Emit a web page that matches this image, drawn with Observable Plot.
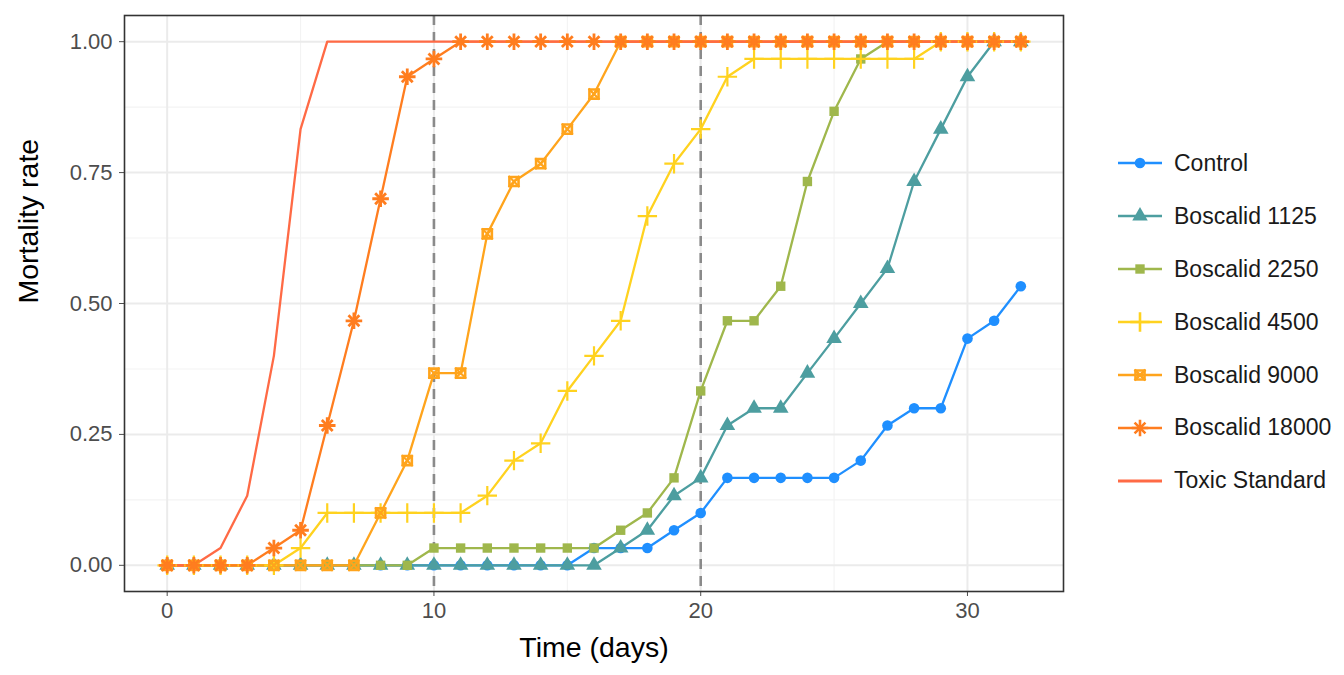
<!DOCTYPE html>
<html>
<head>
<meta charset="utf-8">
<script src="https://cdn.jsdelivr.net/npm/d3@7"></script>
<script src="https://cdn.jsdelivr.net/npm/@observablehq/plot@0.6"></script>
<style>
  html, body { margin: 0; padding: 0; background: #fff; }
  #wrap { position: relative; width: 1344px; height: 675px; font-family: "Liberation Sans", Arial, sans-serif; }
  #legend { position: absolute; left: 1116px; top: 137px; }
  .item { display: flex; align-items: center; height: 52.9px; font-size: 23px; color: #1a1a1a; }
  .item svg { margin-right: 10px; }
</style>
</head>
<body>
<div id="wrap"><div id="chart"></div><div id="legend"></div></div>
<script>
// ---- data ----
const days = d3.range(0, 33);
const seriesNames = ["Control", "Boscalid 1125", "Boscalid 2250", "Boscalid 4500", "Boscalid 9000", "Boscalid 18000", "Toxic Standard"];
const seriesColors = ["#1f8fff", "#4d9ea0", "#9fb74c", "#ffd21f", "#ffa41c", "#ff7d1f", "#ff6a45"];

const control  = [0,0,0,0,0,0,0,0,0,0,0,0,0,0,0,0, 0.033,0.033,0.033,0.067,0.1,0.167,0.167,0.167,0.167,0.167,0.2,0.267,0.3,0.3,0.433,0.467,0.533];
const b1125    = [0,0,0,0,0,0,0,0,0,0,0,0,0,0,0,0,0, 0.033,0.067,0.133,0.167,0.267,0.3,0.3,0.367,0.433,0.5,0.567,0.733,0.833,0.933,1,1];
const b2250    = [0,0,0,0,0,0,0,0,0,0, 0.033,0.033,0.033,0.033,0.033,0.033,0.033, 0.067,0.1,0.167,0.333,0.467,0.467,0.533,0.733,0.867,0.967, 1,1,1,1,1,1];
const b4500    = [0,0,0,0,0, 0.033, 0.1,0.1,0.1,0.1,0.1,0.1, 0.133,0.2,0.233,0.333,0.4,0.467,0.667,0.767,0.833,0.933, 0.967,0.967,0.967,0.967,0.967,0.967,0.967, 1,1,1,1];
const b9000    = [0,0,0,0,0,0,0,0, 0.1,0.2,0.367,0.367,0.633,0.733,0.767,0.833,0.9, 1,1,1,1,1,1,1,1,1,1,1,1,1,1,1,1];
const b18000   = [0,0,0,0, 0.033,0.067,0.267,0.467,0.7,0.933,0.967, 1,1,1,1,1,1,1,1,1,1,1,1,1,1,1,1,1,1,1,1,1,1];
const toxic    = [0,0,0.033,0.133,0.4,0.833, 1,1,1,1,1,1,1,1,1,1,1,1,1,1,1,1,1,1,1,1,1,1,1,1,1,1,1];

const xTicks = [0, 10, 20, 30];
const xMinor = [5, 15, 25];
const yTicks = [0, 0.25, 0.5, 0.75, 1];
const yMinor = [0.125, 0.375, 0.625, 0.875];
const cutoffDays = [10, 20];

const seriesValues = [control, b1125, b2250, b4500, b9000, b18000, toxic];
const table = seriesNames.flatMap((s, i) => days.map((d, j) => ({series: s, day: d, value: seriesValues[i][j]})));
const of = (s) => table.filter(r => r.series === s);

const font = '"Liberation Sans", Arial, sans-serif';

const chart = Plot.plot({
  width: 1344,
  height: 675,
  marginLeft: 124,
  marginRight: 281,
  marginTop: 15,
  marginBottom: 84,
  style: {fontFamily: font, background: "#fff", overflow: "visible"},
  x: {domain: [-1.6, 33.6], axis: null},
  y: {domain: [-0.05, 1.05], axis: null},
  color: {domain: seriesNames, range: seriesColors},
  marks: [
    Plot.ruleX(xMinor, {stroke: "#f3f3f3", strokeWidth: 1.1}),
    Plot.ruleY(yMinor, {stroke: "#f3f3f3", strokeWidth: 1.1}),
    Plot.ruleX(xTicks, {stroke: "#ebebeb", strokeWidth: 2}),
    Plot.ruleY(yTicks, {stroke: "#ebebeb", strokeWidth: 2}),
    Plot.ruleX(cutoffDays, {stroke: "#8a8a8a", strokeWidth: 2.6, strokeDasharray: "10 7"}),
    Plot.line(table, {x: "day", y: "value", z: "series", stroke: "series", strokeWidth: 2.3}),
    Plot.dot(of("Control"), {x: "day", y: "value", fill: "series", symbol: "circle", r: 5.3}),
    Plot.dot(of("Boscalid 1125"), {x: "day", y: "value", fill: "series", symbol: "triangle", r: 5.8}),
    Plot.dot(of("Boscalid 2250"), {x: "day", y: "value", fill: "series", symbol: "square", r: 5.3}),
    Plot.dot(of("Boscalid 4500"), {x: "day", y: "value", stroke: "series", symbol: "plus", r: 6.3, strokeWidth: 2.2}),
    Plot.dot(of("Boscalid 9000"), {x: "day", y: "value", stroke: "series", symbol: "square2", r: 5.8, strokeWidth: 2.6}),
    Plot.dot(of("Boscalid 9000"), {x: "day", y: "value", stroke: "series", symbol: "times", r: 5, strokeWidth: 2.2}),
    Plot.dot(of("Boscalid 18000"), {x: "day", y: "value", stroke: "series", symbol: "plus", r: 5.4, strokeWidth: 2.8}),
    Plot.dot(of("Boscalid 18000"), {x: "day", y: "value", stroke: "series", symbol: "times", r: 5, strokeWidth: 2.8}),
    Plot.dot(of("Boscalid 18000"), {x: "day", y: "value", fill: "series", symbol: "circle", r: 3}),
    Plot.axisX({ticks: xTicks, tickSize: 5, tickPadding: 6, fontSize: 22, color: "#4d4d4d", label: null}),
    Plot.axisY({ticks: yTicks, tickSize: 5, tickPadding: 7, fontSize: 22, color: "#4d4d4d", label: null, tickFormat: d3.format(".2f")}),
    Plot.frame({stroke: "#333", strokeWidth: 1.6}),
    Plot.text(["Time (days)"], {frameAnchor: "bottom", dy: 65, fontSize: 28.5, fill: "#000"}),
    Plot.text(["Mortality rate"], {frameAnchor: "left", dx: -96, rotate: -90, fontSize: 28.5, fill: "#000"})
  ]
});
document.getElementById("chart").appendChild(chart);

// ---- legend ----
const symbolFor = {
  "Control": [[d3.symbolCircle, 28 * Math.PI, "fill"]],
  "Boscalid 1125": [[d3.symbolTriangle, 33 * Math.PI, "fill"]],
  "Boscalid 2250": [[d3.symbolSquare, 28 * Math.PI, "fill"]],
  "Boscalid 4500": [[d3.symbolPlus, 40 * Math.PI, "stroke"]],
  "Boscalid 9000": [[d3.symbolSquare2, 33 * Math.PI, "stroke"], [d3.symbolTimes, 25 * Math.PI, "stroke"]],
  "Boscalid 18000": [[d3.symbolPlus, 29 * Math.PI, "stroke"], [d3.symbolTimes, 25 * Math.PI, "stroke"], [d3.symbolCircle, 9 * Math.PI, "fill"]],
  "Toxic Standard": []
};
const legend = d3.select("#legend");
seriesNames.forEach((s, i) => {
  const item = legend.append("div").attr("class", "item");
  const svg = item.append("svg").attr("width", 48).attr("height", 24);
  svg.append("line").attr("x1", 2).attr("x2", 46).attr("y1", 12).attr("y2", 12)
     .attr("stroke", seriesColors[i]).attr("stroke-width", s === "Toxic Standard" ? 3 : 2.3);
  (symbolFor[s] || []).forEach(([type, size, mode]) => {
    const p = svg.append("path").attr("transform", "translate(24,12)").attr("d", d3.symbol(type, size)());
    if (mode === "fill") p.attr("fill", seriesColors[i]);
    else p.attr("fill", "none").attr("stroke", seriesColors[i]).attr("stroke-width", 2.6);
  });
  item.append("span").text(s);
});
</script>
</body>
</html>
